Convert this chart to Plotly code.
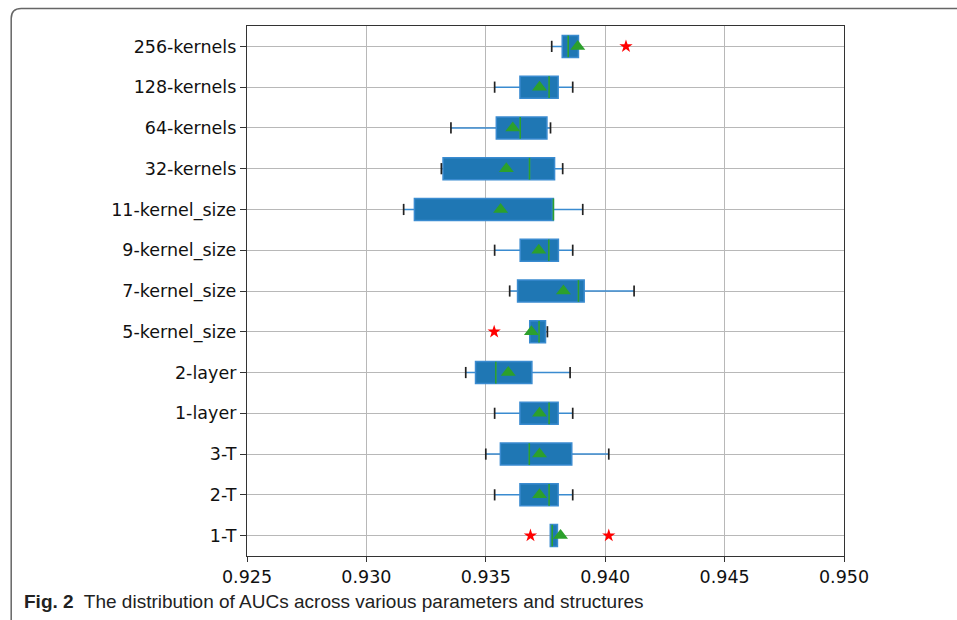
import plotly.graph_objects as go

# ---- data (bottom to top) ----
categories = ["1-T", "2-T", "3-T", "1-layer", "2-layer", "5-kernel_size",
              "7-kernel_size", "9-kernel_size", "11-kernel_size",
              "32-kernels", "64-kernels", "128-kernels", "256-kernels"]
lower_fence = [0.93770, 0.93537, 0.93500, 0.93537, 0.93416, 0.93684,
               0.93600, 0.93537, 0.93156, 0.93314, 0.93354, 0.93537, 0.93776]
q1 = [0.93770, 0.93643, 0.93561, 0.93643, 0.93457, 0.93684,
      0.93633, 0.93644, 0.93201, 0.93321, 0.93544, 0.93643, 0.93820]
median = [0.93778, 0.93765, 0.93682, 0.93765, 0.93542, 0.93723,
          0.93888, 0.93764, 0.93783, 0.93683, 0.93644, 0.93765, 0.93845]
q3 = [0.93800, 0.93803, 0.93860, 0.93803, 0.93693, 0.93750,
      0.93912, 0.93804, 0.93783, 0.93788, 0.93756, 0.93803, 0.93888]
upper_fence = [0.93800, 0.93864, 0.94015, 0.93864, 0.93853, 0.93758,
               0.94121, 0.93864, 0.93906, 0.93822, 0.93771, 0.93864, 0.93888]
means = [0.93813, 0.93725, 0.93725, 0.93725, 0.93594, 0.93691,
         0.93825, 0.93722, 0.93562, 0.93586, 0.93613, 0.93725, 0.93885]
outlier_cats = ["1-T", "1-T", "5-kernel_size", "256-kernels"]
outlier_vals = [0.93687, 0.94015, 0.93535, 0.94087]

x_ticks = [0.925, 0.930, 0.935, 0.940, 0.945, 0.950]
x_tick_labels = ["0.925", "0.930", "0.935", "0.940", "0.945", "0.950"]
caption = "<b>Fig. 2</b>  The distribution of AUCs across various parameters and structures"

# ---- layout geometry (pixels) ----
W, H = 957, 620
L, R, T, B = 247, 844.5, 25.5, 556


def px(xp):
    return (xp - L) / (R - L)


def py(yp):
    return (B - yp) / (B - T)


BLUE = "#1f77b4"
GREEN = "#2ca02c"

fig = go.Figure()

fig.add_trace(go.Box(
    y=categories, q1=q1, median=median, q3=q3,
    lowerfence=lower_fence, upperfence=upper_fence,
    orientation="h", boxpoints=False, width=0.54, whiskerwidth=0,
    fillcolor=BLUE, line=dict(color="#3a8bd0", width=1.5),
    showlegend=False, hoverinfo="skip",
))

# whisker caps (only where the whisker extends beyond the box)
cap_y, cap_x = [], []
for c, lf, a, b, uf in zip(categories, lower_fence, q1, q3, upper_fence):
    if lf < a:
        cap_y.append(c); cap_x.append(lf)
    if uf > b:
        cap_y.append(c); cap_x.append(uf)
fig.add_trace(go.Scatter(
    x=cap_x, y=cap_y, mode="markers",
    marker=dict(symbol="line-ns", size=8, line=dict(color="#222222", width=1.7)),
    showlegend=False, hoverinfo="skip",
))

# medians
fig.add_trace(go.Scatter(
    x=median, y=categories, mode="markers",
    marker=dict(symbol="line-ns", size=15.5, line=dict(color=GREEN, width=1.6)),
    showlegend=False, hoverinfo="skip",
))

# means
fig.add_trace(go.Scatter(
    x=means, y=categories, mode="markers",
    marker=dict(symbol="triangle-up", size=13, color=GREEN, line=dict(width=0)),
    showlegend=False, hoverinfo="skip",
))

# outliers
fig.add_trace(go.Scatter(
    x=outlier_vals, y=outlier_cats, mode="markers",
    marker=dict(symbol="star", size=10, color="red", line=dict(width=0)),
    showlegend=False, hoverinfo="skip",
))

# outer rounded frame (left and top only)
x0, xr, rad = 11, 965, 10
y0, yb = 8, 630
path = (f"M {px(x0)},{py(yb)} L {px(x0)},{py(y0 + rad)} "
        f"Q {px(x0)},{py(y0)} {px(x0 + rad)},{py(y0)} L {px(xr)},{py(y0)}")
fig.add_shape(type="path", path=path, xref="paper", yref="paper",
              line=dict(color="#666666", width=1.5), layer="above")

fig.add_annotation(
    text=caption, xref="paper", yref="paper", x=px(22), y=py(602),
    xanchor="left", yanchor="middle", showarrow=False,
    font=dict(family="Liberation Sans", size=19, color="#222222"),
)

fig.update_layout(
    width=W, height=H,
    margin=dict(l=L, r=W - R, t=T, b=H - B, pad=0),
    paper_bgcolor="white", plot_bgcolor="white",
    font=dict(family="DejaVu Sans", size=17.5, color="#111111"),
    xaxis=dict(
        range=[0.925, 0.950], tickmode="array", tickvals=x_ticks,
        ticktext=x_tick_labels, showgrid=True, gridcolor="#b8b8b8",
        gridwidth=1.3, zeroline=False, showline=True, mirror=True,
        linecolor="#333333", linewidth=1.3, ticks="outside", ticklen=5,
        tickcolor="#333333", tickfont=dict(size=17.5),
    ),
    yaxis=dict(
        type="category", categoryorder="array", categoryarray=categories,
        range=[-0.5, len(categories) - 0.5], showgrid=True,
        gridcolor="#b8b8b8", gridwidth=1.3, zeroline=False, showline=True,
        mirror=True, linecolor="#333333", linewidth=1.3, ticks="outside",
        ticklen=6, tickcolor="#333333", tickfont=dict(size=17.5),
    ),
)

fig.write_html(
    "out.html",
    config={"displayModeBar": False},
    post_script="document.body.style.margin='0';document.body.style.overflow='hidden';",
)
